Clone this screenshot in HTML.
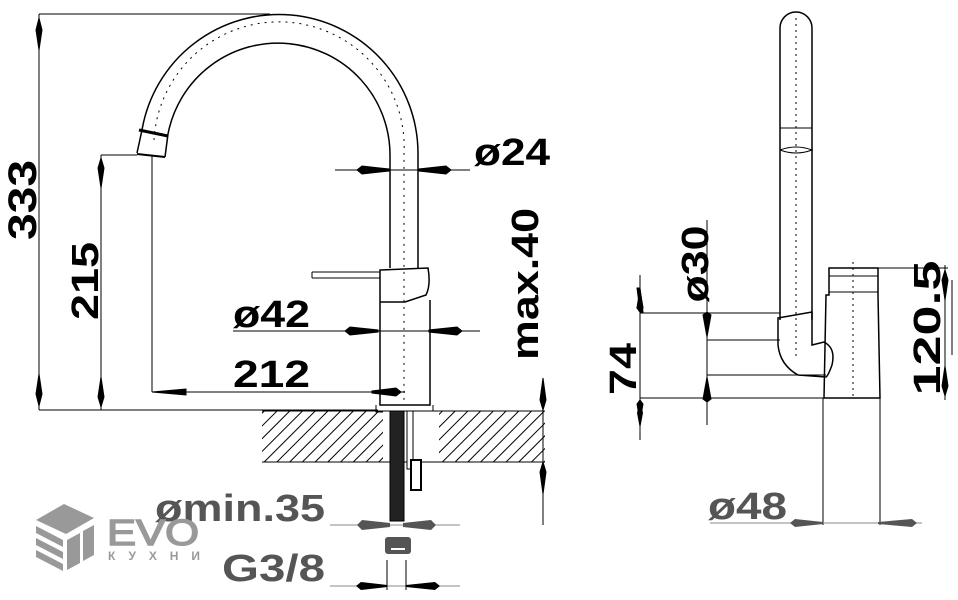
<!DOCTYPE html>
<html><head><meta charset="utf-8"><style>
html,body{margin:0;padding:0;background:#fff;}
svg{display:block}
text{font-family:"Liberation Sans",sans-serif;font-weight:bold;fill:#000}
</style></head><body>
<svg width="958" height="600" viewBox="0 0 958 600" xmlns="http://www.w3.org/2000/svg">
<defs>
<pattern id="h" width="9" height="9" patternUnits="userSpaceOnUse" patternTransform="rotate(45)"><line x1="0" y1="0" x2="0" y2="9" stroke="#000" stroke-width="2"/></pattern>
</defs>
<g stroke="#000" stroke-width="1" fill="none">
<!-- 333 -->
<line x1="39" y1="14" x2="270" y2="14"/>
<line x1="39" y1="14" x2="39" y2="410"/>
<path d="M39,18 l-3,12 3,20 3,-20z M39,406 l-3,-12 3,-20 3,20z" fill="#000"/>
<!-- 215 -->
<line x1="101" y1="155" x2="137" y2="155"/>
<line x1="101" y1="155" x2="101" y2="410"/>
<path d="M101,158 l-3,10 3,20 3,-20z M101,407 l-3,-10 3,-20 3,20z" fill="#000"/>
<line x1="39" y1="410" x2="378" y2="410"/>
<!-- spout -->
<path d="M137,153 L142,130 A139,139 0 0 1 418,154 L418,268" stroke-width="1.5"/>
<path d="M165,157 L168,134 A112,112 0 0 1 390,155 L390,268" stroke-width="1.5"/>
<path d="M139,130 L168,136" stroke-width="3"/>
<path d="M137,154 L165,157" stroke-width="2"/>
<line x1="152" y1="156" x2="152" y2="392"/>
<path d="M154,140 A125,125 0 0 1 404,154 L404,400" stroke-dasharray="2,5"/>
<!-- body -->
<path d="M380,270 L428,268 Q431,285 426,295 L405,302 L380,302Z M380,302 L380,405 L430,405 L430,300" stroke-width="1.5"/>
<path d="M312,272 L380,272 M312,278 L380,278 M312,272 L312,278"/>
<path d="M376,405 L376,412 L433,412 L433,405"/>
<!-- ø24 -->
<line x1="335" y1="170" x2="470" y2="170"/>
<path d="M357,170 l5,-4 27,3 v2 l-27,3z M451,170 l-5,-4 -27,3 v2 l27,3z" fill="#000"/>
<!-- ø42 -->
<line x1="233" y1="331" x2="480" y2="331"/>
<path d="M345,331 l5,-4 28,3 v2 l-28,3z M462,331 l-5,-4 -28,3 v2 l28,3z" fill="#000"/>
<!-- 212 -->
<line x1="152" y1="392" x2="405" y2="392"/>
<path d="M152,392 l34,-3 v6z M401,392 l-5,-4 -24,3 v2 l24,3z" fill="#000"/>
<!-- max.40 -->
<line x1="543" y1="380" x2="543" y2="525"/>
<path d="M543,410 l-3,-10 3,-22 3,22z M543,462 l-3,10 3,22 3,-22z" fill="#000"/>
<!-- counter -->
<rect x="262" y="411" width="283" height="51" fill="url(#h)" stroke="none"/>
<rect x="383" y="411" width="56" height="51" fill="#fff" stroke="none"/>
<line x1="262" y1="411" x2="545" y2="411"/>
<line x1="262" y1="462" x2="545" y2="462"/>
<rect x="390" y="411" width="14" height="110" fill="#222"/>
<rect x="407" y="411" width="6" height="58" fill="#fff"/>
<rect x="411" y="460" width="10" height="30" fill="#fff" stroke-width="2"/>
<rect x="385" y="537" width="26" height="17" rx="3" fill="#555" stroke="none"/>
<line x1="391" y1="549" x2="405" y2="549" stroke="#fff" stroke-width="2"/>
<!-- ømin.35 -->
<line x1="330" y1="525" x2="460" y2="525" stroke="#888"/>
<path d="M357,525 l5,-5 28,3 v4 l-28,3z M436,525 l-5,-5 -28,3 v4 l28,3z" fill="#555" stroke="none"/>
<!-- G3/8 -->
<line x1="330" y1="586" x2="460" y2="586" stroke="#888"/>
<line x1="387" y1="560" x2="387" y2="590"/><line x1="406" y1="560" x2="406" y2="590"/>
<path d="M356,586 l5,-4 26,3 v2 l-26,3z M440,586 l-5,-4 -29,3 v2 l29,3z" fill="#000" stroke="none"/>

<!-- right view -->
<path d="M780,320 L780,28 A16,16 0 0 1 812,28 L812,320" stroke-width="1.5"/>
<line x1="796" y1="18" x2="796" y2="360" stroke-dasharray="2,4"/>
<line x1="780" y1="128" x2="812" y2="128"/><path d="M780,150 Q796,144 812,150 Q796,156 780,150"/>
<path d="M778,318 L812,312 L812,345 L824,342 Q836,348 832,365 Q828,376 826,377 L798,375 Q780,365 778,345 Z" stroke-width="1.5"/>
<path d="M829,268 L878,268 L878,295 L880,398 L824,398 L826,295 L829,295Z" stroke-width="1.5"/>
<line x1="829" y1="276" x2="878" y2="276"/><line x1="829" y1="292" x2="878" y2="292"/>
<line x1="853" y1="262" x2="853" y2="398" stroke-dasharray="2,4"/>
<line x1="878" y1="268" x2="948" y2="268"/>
<line x1="640" y1="313" x2="780" y2="313"/>
<line x1="707" y1="340" x2="780" y2="340"/>
<line x1="707" y1="375" x2="826" y2="375"/>
<line x1="640" y1="398" x2="826" y2="398"/>
<line x1="640" y1="275" x2="640" y2="440"/>
<path d="M640,288 l-3,0 3,24 3,0z" fill="#000"/>
<path d="M640,290 l-3,18 3,4 3,-4z M640,422 l-3,-18 3,-4 3,4z" fill="#000"/>
<path d="M640,290 l3,18 -3,4 -3,-4z" fill="#000"/>
<path d="M640,399 l-3,14 3,16 3,-16z" fill="#000" stroke="none"/>
<line x1="707" y1="220" x2="707" y2="425"/>
<path d="M707,312 l-4,3 4,22 4,-22z M707,402 l-4,-3 4,-22 4,22z" fill="#000"/>
<line x1="945" y1="265" x2="945" y2="400"/>
<line x1="952" y1="280" x2="952" y2="355"/>
<path d="M945,270 l-3,10 3,20 3,-20z M945,396 l-3,-10 3,-20 3,20z" fill="#000"/>
<line x1="823" y1="398" x2="823" y2="525"/><line x1="880" y1="398" x2="880" y2="525"/>
<line x1="710" y1="523" x2="922" y2="523" stroke="#888"/>
<path d="M790,523 l5,-4 28,3 v2 l-28,3z M917,523 l-5,-4 -34,3 v2 l34,3z" fill="#555" stroke="none"/>
</g>
<!-- texts -->
<g lengthAdjust="spacingAndGlyphs">
<text x="0" y="0" font-size="40" transform="translate(36,200) rotate(-90)" text-anchor="middle" textLength="80" lengthAdjust="spacingAndGlyphs">333</text>
<text x="0" y="0" font-size="38" transform="translate(98,281) rotate(-90)" text-anchor="middle" textLength="78" lengthAdjust="spacingAndGlyphs">215</text>
<text x="474" y="165" font-size="38" textLength="76" lengthAdjust="spacingAndGlyphs">ø24</text>
<text x="233" y="327" font-size="38" textLength="77" lengthAdjust="spacingAndGlyphs">ø42</text>
<text x="233" y="387" font-size="38" textLength="77" lengthAdjust="spacingAndGlyphs">212</text>
<text x="0" y="0" font-size="38" transform="translate(538,284) rotate(-90)" text-anchor="middle" textLength="152" lengthAdjust="spacingAndGlyphs">max.40</text>
<text x="155" y="521" font-size="38" style="fill:#555" textLength="170" lengthAdjust="spacingAndGlyphs">ømin.35</text>
<text x="222" y="581" font-size="38" style="fill:#555" textLength="103" lengthAdjust="spacingAndGlyphs">G3/8</text>
<text x="0" y="0" font-size="38" transform="translate(708,264) rotate(-90)" text-anchor="middle" textLength="77" lengthAdjust="spacingAndGlyphs">ø30</text>
<text x="0" y="0" font-size="38" transform="translate(636,369) rotate(-90)" text-anchor="middle" textLength="52" lengthAdjust="spacingAndGlyphs">74</text>
<text x="0" y="0" font-size="38" transform="translate(940,328) rotate(-90)" text-anchor="middle" textLength="135" lengthAdjust="spacingAndGlyphs">120.5</text>
<text x="708" y="519" font-size="38" style="fill:#555" textLength="79" lengthAdjust="spacingAndGlyphs">ø48</text>
</g>
<!-- logo -->
<g fill="#999">
<path d="M36,520 L64,504 L94,518 L66,534Z"/>
<path d="M36,526 L63,540 L63,547 L36,533Z M36,538 L63,552 L63,559 L36,545Z M36,550 L63,564 L63,571 L36,557Z"/>
<path d="M67,540 L80,533 L80,563 L67,570Z M83,531 L94,525 L94,555 L83,561Z"/>
</g>
<text x="107" y="545" font-size="36" style="fill:#999;font-weight:normal;stroke:#999;stroke-width:1.5" textLength="92" lengthAdjust="spacingAndGlyphs">EVO</text>
<text x="108" y="560" font-size="12" style="fill:#999;font-weight:bold" textLength="92">КУХНИ</text>
</svg>
</body></html>
